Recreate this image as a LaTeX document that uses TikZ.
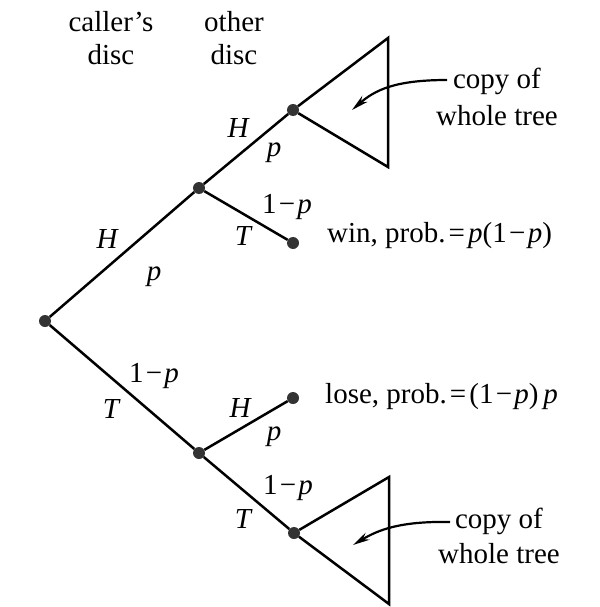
\documentclass[tikz,border=0pt]{standalone}
\usepackage{fontspec}
\setmainfont{Liberation Serif}
\usetikzlibrary{arrows.meta}
\newcommand{\wminus}{\makebox[0.72em]{−}}
\newcommand{\wequal}{\makebox[0.78em]{=}}
\begin{document}
\begin{tikzpicture}[x=1pt,y=-1pt,
  dot/.style={circle,fill=black!80,inner sep=0pt,minimum size=12pt},
  branch/.style={line width=2.5pt,line join=miter},
  lbl/.style={font=\fontsize{29}{33}\selectfont\itshape,inner sep=0pt},
  txt/.style={font=\fontsize{29}{33}\selectfont,inner sep=0pt},
  pointer/.style={line width=2.2pt,-{Stealth[length=17pt,width=8pt]}}]
\useasboundingbox (0,0) rectangle (599,607);
% header
\node[txt,align=center,anchor=base] (hcaller) at (111,65) {caller’s\\disc};
\node[txt,align=center,anchor=base] (hother) at (234,65) {other\\disc};
% tree nodes
\node[dot] (root) at (45,321) {};
\node[dot] (a) at (199,188) {};
\node[dot] (b) at (199,453) {};
\node[dot] (ca) at (293,110) {};
\node[dot] (win) at (293,243) {};
\node[dot] (lose) at (293,398) {};
\node[dot] (cb) at (294,533) {};
\coordinate (ta1) at (388,38);
\coordinate (ta2) at (388,167);
\coordinate (tb1) at (389,477);
\coordinate (tb2) at (389,604);
% branches
\draw[branch] (root) -- (a);
\draw[branch] (root) -- (b);
\draw[branch] (a) -- (ca);
\draw[branch] (a) -- (win);
\draw[branch] (b) -- (lose);
\draw[branch] (b) -- (cb);
\draw[branch] (ca) -- (ta1) -- (ta2) -- (ca);
\draw[branch] (cb) -- (tb1) -- (tb2) -- (cb);
% edge labels
\node[lbl] (h1) at (107,239) {H};
\node[lbl] (p1) at (154,277) {p};
\node[lbl] (h2) at (238,128) {H};
\node[lbl] (p2) at (274,153) {p};
\node[txt] (q3) at (287,207) {1\wminus\textit{p}};
\node[lbl] (t3) at (243,236) {T};
\node[txt] (q4) at (154,376) {1\wminus\textit{p}};
\node[lbl] (t4) at (111,409) {T};
\node[lbl] (h5) at (240,408) {H};
\node[lbl] (p5) at (274,437) {p};
\node[txt] (q6) at (288,488) {1\wminus\textit{p}};
\node[lbl] (t6) at (243,519) {T};
% outcome texts
\node[txt,anchor=base west] (wintxt) at (327,242) {win, prob.\wequal\textit{p}(1\wminus\textit{p})};
\node[txt,anchor=base west] (losetxt) at (325,403) {lose, prob.\wequal(1\wminus\textit{p})\,\textit{p}};
% copy labels
\node[txt,align=center,anchor=base,font=\fontsize{29}{37}\selectfont] (copyA) at (497,125) {copy of\\whole tree};
\node[txt,align=center,anchor=base,font=\fontsize{29}{35}\selectfont] (copyB) at (499,563) {copy of\\whole tree};
\coordinate (sa) at (447,80);
\coordinate (ea) at (352,110);
\coordinate (sb) at (450,522);
\coordinate (eb) at (353,545);
\draw[pointer] (sa) .. controls (395,80) and (375,90) .. (ea);
\draw[pointer] (sb) .. controls (400,521) and (378,530) .. (eb);
\end{tikzpicture}
\end{document}
